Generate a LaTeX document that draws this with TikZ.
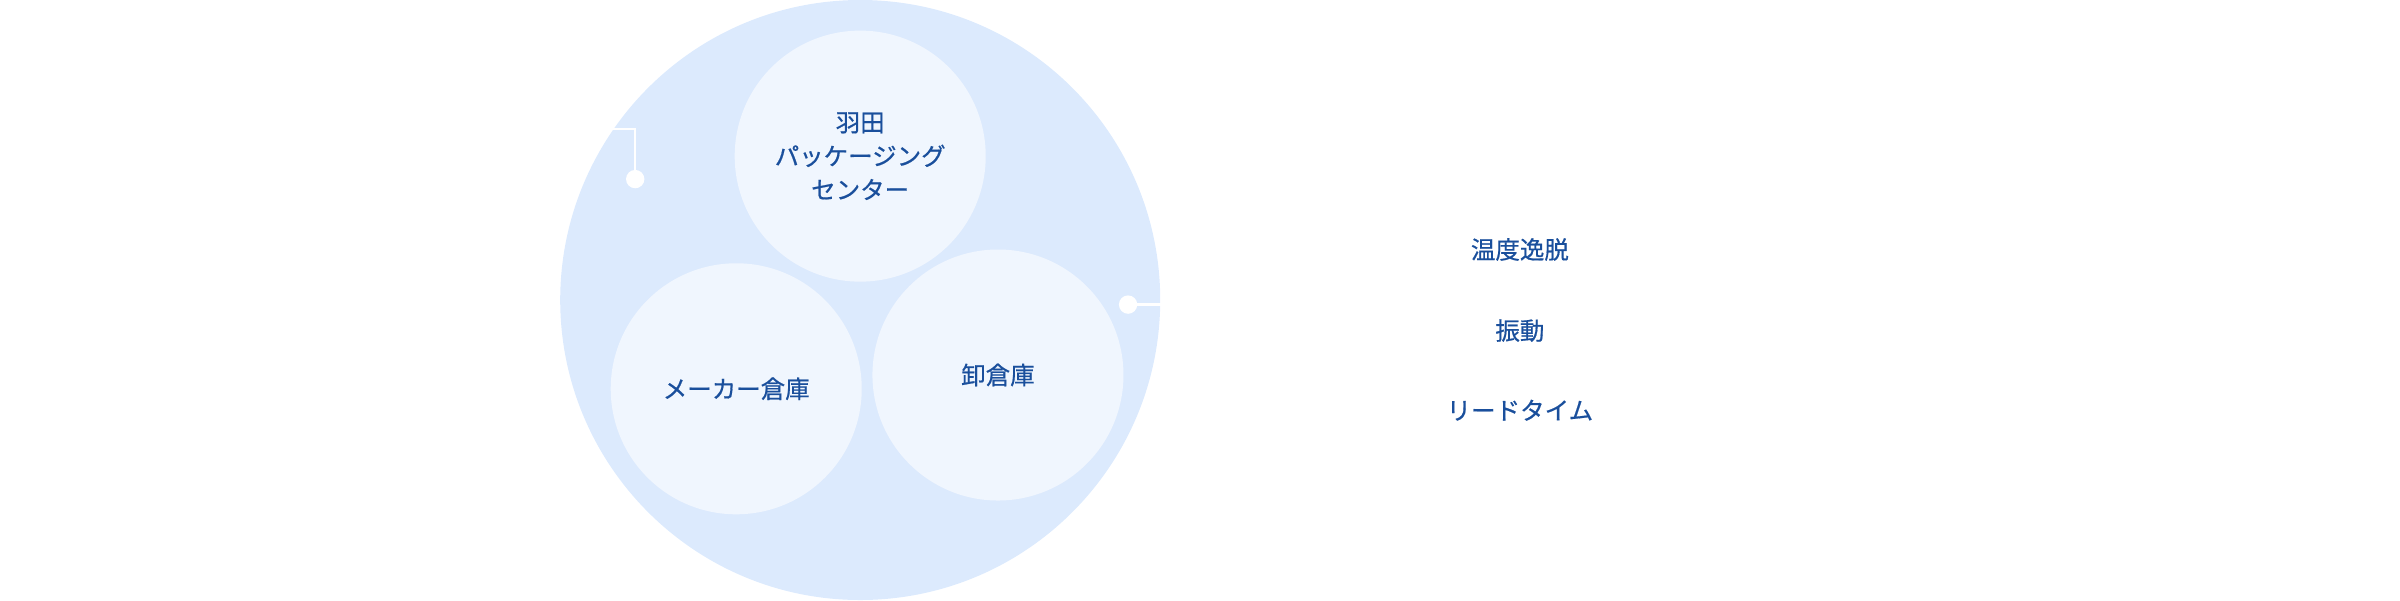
\documentclass[tikz,border=0pt]{standalone}
\usepackage{fontspec}
\setmainfont{Noto Sans CJK JP}[FakeBold=0.6]
\begin{document}
\begin{tikzpicture}[x=1pt,y=-1pt,
  lbl/.style={text=txt,font=\fontsize{16}{22}\selectfont,align=center,inner sep=0},
  small/.style={circle,fill=smallc,minimum size=164pt,inner sep=0},
  conn/.style={draw=white,line width=1.4pt}]
\definecolor{bigc}{HTML}{DCEAFD}
\definecolor{smallc}{HTML}{F0F6FE}
\definecolor{txt}{HTML}{1A4F9C}
\useasboundingbox (0,0) rectangle (1568,392);
\fill[bigc] (562,196) circle (196);
\node[small] (a) at (562,102) {};
\node[small] (b) at (481,254) {};
\node[small] (c) at (652,245) {};
\node[lbl] at (a) {羽田\\パッケージング\\センター};
\node[lbl] at (b) {メーカー倉庫};
\node[lbl] at (c) {卸倉庫};
\coordinate (l0) at (400,84);
\node[circle,fill=white,minimum size=12pt,inner sep=0] (ld) at (415,117) {};
\draw[conn] (l0) -- (415,84) -- (ld.center);
\node[circle,fill=white,minimum size=12pt,inner sep=0] (rd) at (737,199) {};
\coordinate (r0) at (770,199);
\draw[white,line width=2.2pt] (rd.center) -- (r0);
\node[lbl] (t1) at (993,163) {温度逸脱};
\node[lbl] (t2) at (993,216) {振動};
\node[lbl] (t3) at (993,268) {リードタイム};
\end{tikzpicture}
\end{document}
